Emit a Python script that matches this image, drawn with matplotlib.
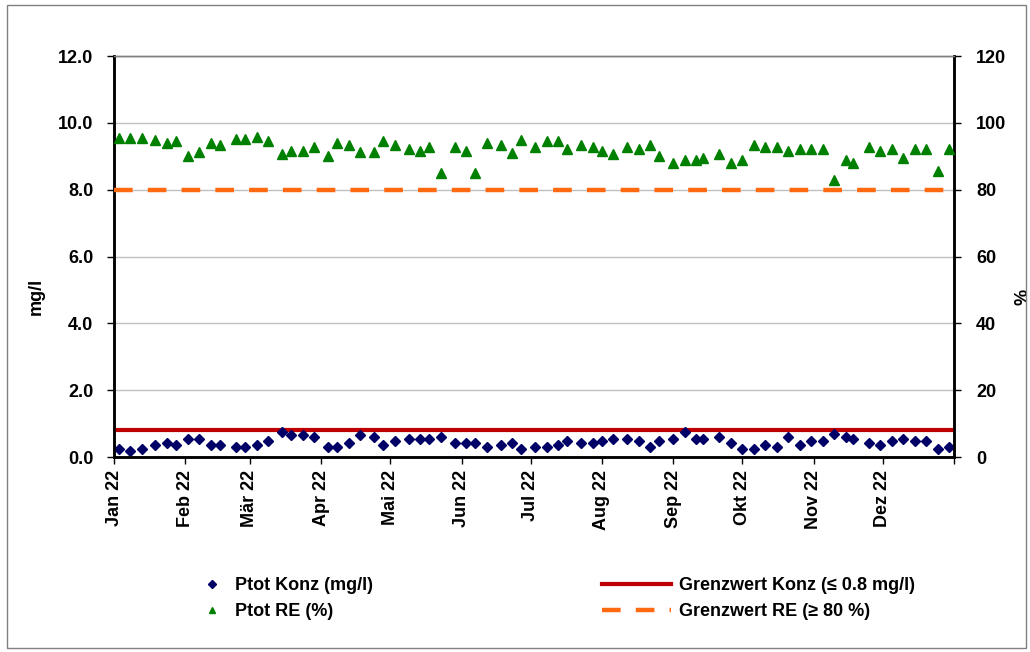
import matplotlib
matplotlib.use('Agg')
import matplotlib.pyplot as plt
import matplotlib.dates as mdates
from matplotlib.lines import Line2D
from matplotlib.patches import Rectangle
import numpy as np
import pandas as pd

plt.rcParams['font.family'] = ['Liberation Sans', 'DejaVu Sans']
plt.rcParams['font.weight'] = 'bold'

# Probenahmetage 2022
dates = ['2022-01-03', '2022-01-08', '2022-01-13', '2022-01-19', '2022-01-24', '2022-01-28',
         '2022-02-02', '2022-02-07', '2022-02-12', '2022-02-16', '2022-02-23', '2022-02-27',
         '2022-03-04', '2022-03-09', '2022-03-15', '2022-03-19', '2022-03-24', '2022-03-29',
         '2022-04-04', '2022-04-08', '2022-04-13', '2022-04-18', '2022-04-24', '2022-04-28',
         '2022-05-03', '2022-05-09', '2022-05-14', '2022-05-18', '2022-05-23', '2022-05-29',
         '2022-06-03', '2022-06-07', '2022-06-12', '2022-06-18', '2022-06-23', '2022-06-27',
         '2022-07-03', '2022-07-08', '2022-07-13', '2022-07-17', '2022-07-23', '2022-07-28',
         '2022-08-01', '2022-08-06', '2022-08-12', '2022-08-17', '2022-08-22', '2022-08-26',
         '2022-09-01', '2022-09-06', '2022-09-11', '2022-09-14', '2022-09-21', '2022-09-26',
         '2022-10-01', '2022-10-06', '2022-10-11', '2022-10-16', '2022-10-21', '2022-10-26', '2022-10-31',
         '2022-11-05', '2022-11-10', '2022-11-15', '2022-11-18', '2022-11-25', '2022-11-30',
         '2022-12-05', '2022-12-10', '2022-12-15', '2022-12-20', '2022-12-25', '2022-12-30']

# Ptot Konzentration (mg/l)
konz = [0.25, 0.19, 0.25, 0.37, 0.43, 0.37, 0.54, 0.54, 0.37, 0.37, 0.31, 0.31, 0.37,
        0.48, 0.76, 0.65, 0.65, 0.59, 0.31, 0.31, 0.43, 0.65, 0.59, 0.37, 0.48,
        0.53, 0.53, 0.53, 0.59, 0.42, 0.42, 0.42, 0.31, 0.37, 0.42, 0.25, 0.31, 0.31,
        0.37, 0.48, 0.42, 0.42, 0.48, 0.53, 0.53, 0.48, 0.31, 0.48, 0.53, 0.76,
        0.53, 0.53, 0.59, 0.42, 0.25, 0.25, 0.37, 0.31, 0.59, 0.37, 0.48, 0.48,
        0.70, 0.59, 0.53, 0.42, 0.37, 0.48, 0.53, 0.48, 0.48, 0.25, 0.31]

# Ptot Reinigungsleistung (%)
re = [95.5, 95.5, 95.5, 94.9, 93.9, 94.5, 90.1, 91.2, 93.9, 93.4, 95.1, 95.1, 95.7,
      94.5, 90.6, 91.7, 91.7, 92.9, 90.1, 93.9, 93.4, 91.2, 91.2, 94.5, 93.4,
      92.2, 91.7, 92.9, 85.1, 92.9, 91.7, 85.1, 93.9, 93.4, 91.1, 94.9, 92.9, 94.5,
      94.5, 92.2, 93.4, 92.9, 91.7, 90.6, 92.9, 92.2, 93.4, 90.1, 87.9, 89.0,
      89.0, 89.6, 90.7, 87.9, 89.0, 93.4, 92.9, 92.9, 91.7, 92.3, 92.3, 92.3,
      82.9, 89.0, 87.9, 92.9, 91.7, 92.3, 89.6, 92.3, 92.3, 85.7, 92.3]

grenz_konz = 0.8
grenz_re = 80
monate = ['Jan 22', 'Feb 22', 'Mär 22', 'Apr 22', 'Mai 22', 'Jun 22',
          'Jul 22', 'Aug 22', 'Sep 22', 'Okt 22', 'Nov 22', 'Dez 22', '']

t = pd.to_datetime(dates)
x0 = pd.Timestamp('2022-01-01')
x1 = pd.Timestamp('2023-01-01')

fig = plt.figure(figsize=(10.3, 6.52), dpi=100)
fig.patches.append(Rectangle((0.007, 0.006), 0.989, 0.986, transform=fig.transFigure,
                             fill=False, edgecolor='#808080', linewidth=1))
ax = fig.add_axes([0.1107, 0.299, 0.8155, 0.615])
ax2 = ax.twinx()

ax.set_xlim(x0, x1)
ax.set_ylim(0, 12)
ax2.set_ylim(0, 120)
ax.set_yticks(np.arange(0, 12.1, 2))
ax.set_yticklabels(['%.1f' % v for v in np.arange(0, 12.1, 2)])
ax2.set_yticks(np.arange(0, 121, 20))
ax.grid(axis='y', color='#c0c0c0', linewidth=1)
ax.set_axisbelow(True)

ticks = pd.date_range('2022-01-01', '2023-01-01', freq='MS')
ax.set_xticks(ticks)
ax.set_xticklabels(monate, rotation=90, va='top', ha='center')

ax.plot([x0, x1], [grenz_konz, grenz_konz], color='#c00000', linewidth=3, zorder=3)
ax2.plot([x0, x1], [grenz_re, grenz_re], color='#ff6a10', linewidth=3.2,
         dashes=(4.2, 3.4), zorder=3)
ax.plot(t, konz, linestyle='none', marker='D', markersize=5, color='#000066', zorder=4)
ax2.plot(t, re, linestyle='none', marker='^', markersize=7, color='#008000', zorder=4)

for a in (ax, ax2):
    a.tick_params(labelsize=13, length=5, width=1, direction='out')
    for s in ('left', 'right', 'bottom'):
        a.spines[s].set_linewidth(1.8)
        a.spines[s].set_color('black')
    a.spines['top'].set_color('#808080')
    a.spines['top'].set_linewidth(1)
ax.tick_params(axis='x', length=5, pad=4)
ax.tick_params(axis='y', pad=10)
ax2.tick_params(axis='y', pad=11)

ax.set_ylabel('mg/l', fontsize=13, fontweight='bold')
ax.yaxis.set_label_coords(-0.083, 0.40)
ax2.set_ylabel('%', fontsize=13, fontweight='bold')
ax2.yaxis.set_label_coords(1.0726, 0.40)

h1 = Line2D([], [], linestyle='none', marker='D', markersize=4, color='#000066')
h2 = Line2D([], [], linestyle='none', marker='^', markersize=5, color='#008000')
h3 = Line2D([], [], color='#c00000', linewidth=3)
h4 = Line2D([], [], color='#ff6a10', linewidth=3.2, dashes=(4.2, 3.4))

leg1 = fig.legend([h1, h2], ['Ptot Konz (mg/l)', 'Ptot RE (%)'], loc='upper left',
                  bbox_to_anchor=(0.181, 0.14), frameon=False, fontsize=13,
                  handlelength=1.0, handletextpad=0.8, labelspacing=0.5)
leg2 = fig.legend([h3, h4], ['Grenzwert Konz (≤ 0.8 mg/l)', 'Grenzwert RE (≥ 80 %)'],
                  loc='upper left', bbox_to_anchor=(0.569, 0.14), frameon=False,
                  fontsize=13, handlelength=3.8, handletextpad=0.45, labelspacing=0.5)

fig.savefig('out.png', dpi=100)
